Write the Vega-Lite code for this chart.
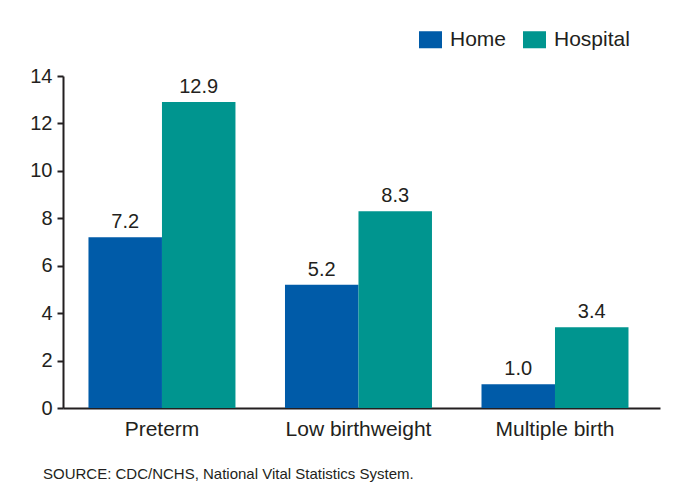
{
  "$schema": "https://vega.github.io/schema/vega-lite/v6.json",
  "width": 597,
  "height": 332,
  "autosize": {"type": "none"},
  "padding": {"left": 63, "top": 76, "right": 13, "bottom": 87},
  "background": "white",
  "config": {
    "view": {"stroke": null},
    "font": "Liberation Sans",
    "text": {"font": "Liberation Sans"}
  },
  "title": {
    "text": "SOURCE: CDC/NCHS, National Vital Statistics System.",
    "orient": "bottom",
    "anchor": "start",
    "frame": "group",
    "dx": -20,
    "offset": 28,
    "fontSize": 15,
    "fontWeight": "normal",
    "color": "#231f20",
    "font": "Liberation Sans"
  },
  "data": {
    "values": [
      {"category": "Preterm", "place": "Home", "value": 7.2},
      {"category": "Preterm", "place": "Hospital", "value": 12.9},
      {"category": "Low birthweight", "place": "Home", "value": 5.2},
      {"category": "Low birthweight", "place": "Hospital", "value": 8.3},
      {"category": "Multiple birth", "place": "Home", "value": 1.0},
      {"category": "Multiple birth", "place": "Hospital", "value": 3.4}
    ]
  },
  "encoding": {
    "x": {
      "field": "category",
      "type": "nominal",
      "sort": ["Preterm", "Low birthweight", "Multiple birth"],
      "scale": {"paddingInner": 0.252, "paddingOuter": 0.145, "align": 0.447},
      "axis": {
        "title": null,
        "labelAngle": 0,
        "ticks": false,
        "domainColor": "#231f20",
        "domainWidth": 2,
        "labelFontSize": 21,
        "labelColor": "#231f20",
        "labelPadding": 10,
        "labelFont": "Liberation Sans"
      }
    },
    "xOffset": {"field": "place", "type": "nominal", "sort": ["Home", "Hospital"]},
    "y": {
      "field": "value",
      "type": "quantitative",
      "scale": {"domain": [0, 14], "nice": false},
      "axis": {
        "title": null,
        "values": [0, 2, 4, 6, 8, 10, 12, 14],
        "grid": false,
        "domainColor": "#231f20",
        "domainWidth": 2,
        "tickColor": "#231f20",
        "tickWidth": 2,
        "tickSize": 6,
        "labelFontSize": 20,
        "labelColor": "#231f20",
        "labelPadding": 5,
        "labelFont": "Liberation Sans"
      }
    }
  },
  "layer": [
    {
      "mark": {"type": "bar"},
      "encoding": {
        "color": {
          "field": "place",
          "type": "nominal",
          "scale": {"domain": ["Home", "Hospital"], "range": ["#005ba8", "#00958f"]},
          "legend": {
            "title": null,
            "orient": "none",
            "direction": "horizontal",
            "legendX": 356,
            "legendY": -48,
            "padding": 0,
            "symbolType": "M-1,-0.74H1V0.74H-1Z",
            "symbolSize": 529,
            "symbolStrokeWidth": 0,
            "symbolOpacity": 1,
            "labelFontSize": 21,
            "labelColor": "#231f20",
            "labelFont": "Liberation Sans",
            "labelOffset": 8,
            "columnPadding": 16
          }
        }
      }
    },
    {
      "mark": {"type": "text", "baseline": "alphabetic", "dy": -9, "fontSize": 20, "color": "#231f20", "font": "Liberation Sans"},
      "encoding": {
        "text": {"field": "value", "type": "quantitative", "format": ".1f"}
      }
    }
  ]
}
